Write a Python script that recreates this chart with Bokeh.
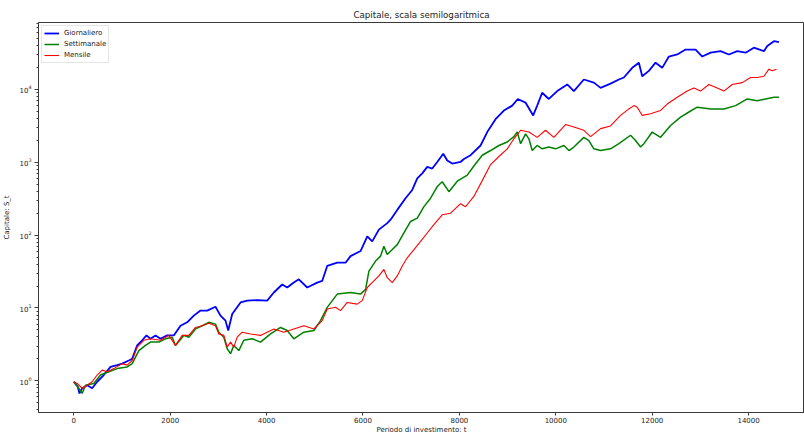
from bokeh.plotting import figure
from bokeh.models import Range1d, FixedTicker, Legend, LegendItem, LogTickFormatter
from bokeh.embed import file_html
from bokeh.resources import INLINE

# Capital paths S_t for three rebalancing frequencies (read at irregular t)
t_giornaliero = [0, 83, 118, 174, 278, 381, 485, 623, 762, 900, 1004, 1142, 1211, 1315, 1419,
                 1509, 1591, 1695, 1799, 1938, 2075, 2214, 2353, 2490, 2629, 2768, 2940, 3044,
                 3148, 3204, 3287, 3460, 3598, 3806, 4013, 4150, 4324, 4428, 4565, 4669, 4843,
                 5050, 5154, 5258, 5466, 5638, 5742, 5950, 6089, 6192, 6330, 6503, 6572, 6711,
                 6883, 7022, 7126, 7230, 7333, 7437, 7541, 7665, 7748, 7852, 8024, 8094, 8232,
                 8439, 8578, 8750, 8923, 9096, 9212, 9371, 9531, 9614, 9718, 9856, 10030, 10238,
                 10375, 10582, 10790, 10929, 11136, 11309, 11412, 11586, 11724, 11793, 11931,
                 12070, 12208, 12346, 12520, 12693, 12900, 13039, 13212, 13419, 13592, 13765,
                 13938, 14110, 14318, 14388, 14526, 14630]
s_giornaliero = [0.97, 0.83, 0.67, 0.79, 0.87, 0.79, 0.97, 1.2, 1.55, 1.64, 1.72, 1.9, 2.0, 3.06,
                 3.6, 4.2, 3.77, 4.2, 3.77, 4.2, 4.2, 5.7, 6.35, 7.85, 9.2, 9.2, 10.4, 7.85, 6.7,
                 4.9, 8.25, 11.9, 12.6, 12.8, 12.6, 16.3, 21, 19.1, 22.3, 24.7, 19.1, 22.3, 23.5,
                 37.7, 41.8, 41.8, 51.5, 60.4, 96, 82, 119, 146, 163, 222, 321, 417, 600, 705,
                 865, 820, 1010, 1310, 1060, 960, 1010, 1110, 1250, 1700, 2600, 3900, 5130, 6000,
                 7400, 6600, 4400, 6000, 9000, 7400, 9500, 11700, 9500, 13700, 12400, 10500,
                 12000, 13700, 14600, 19800, 23300, 15200, 18000, 23300, 19800, 28300, 30200,
                 35300, 35300, 28300, 32000, 33500, 30200, 33500, 32000, 37400, 33500, 39500,
                 45900, 44500]

t_settimanale = [0, 104, 174, 243, 415, 554, 727, 900, 1108, 1212, 1350, 1488, 1592, 1765, 1903,
                 2042, 2110, 2283, 2386, 2525, 2664, 2802, 2940, 3009, 3113, 3183, 3252, 3320,
                 3424, 3528, 3702, 3874, 4082, 4290, 4428, 4565, 4773, 4981, 5119, 5258, 5466,
                 5742, 5950, 6054, 6123, 6261, 6365, 6434, 6503, 6607, 6711, 6849, 6987, 7126,
                 7264, 7402, 7541, 7644, 7783, 7956, 8164, 8300, 8474, 8647, 8820, 8993, 9131,
                 9200, 9270, 9373, 9442, 9511, 9614, 9718, 9856, 9995, 10168, 10272, 10375,
                 10582, 10686, 10790, 10929, 11136, 11309, 11551, 11655, 11759, 11828, 12001,
                 12174, 12381, 12589, 12762, 12935, 13212, 13488, 13731, 13973, 14180, 14353,
                 14526, 14630]
s_settimanale = [0.97, 0.79, 0.67, 0.87, 0.92, 1.2, 1.33, 1.47, 1.55, 1.72, 2.6, 3.06, 3.4, 3.4,
                 3.77, 3.97, 3.06, 4.2, 3.97, 5.15, 5.7, 6.35, 6.0, 4.65, 3.97, 2.75, 2.36, 3.06,
                 2.6, 3.6, 3.77, 3.4, 4.4, 5.4, 4.9, 3.77, 4.65, 4.9, 6.7, 10.2, 15.5, 16.3, 15.5,
                 18, 32, 44, 51.5, 70.5, 54.3, 63.3, 74, 107, 154, 171, 246, 321, 464, 540, 395,
                 550, 665, 890, 1250, 1450, 1700, 1900, 2250, 2600, 1800, 2450, 2100, 1450, 1700,
                 1530, 1620, 1530, 1700, 1450, 1620, 2200, 1990, 1530, 1450, 1530, 1800, 2350,
                 1990, 1620, 1800, 2600, 2200, 3200, 4170, 4900, 5700, 5400, 5400, 6000, 7400,
                 7000, 7400, 7800, 7800]

t_mensile = [0, 70, 174, 278, 381, 485, 589, 693, 831, 1004, 1108, 1212, 1315, 1453, 1591, 1799,
             1972, 2110, 2249, 2386, 2525, 2664, 2802, 2940, 3009, 3113, 3183, 3252, 3320, 3390,
             3494, 3667, 3874, 4150, 4358, 4565, 4773, 4981, 5154, 5258, 5430, 5534, 5673, 5880,
             5984, 6089, 6226, 6330, 6434, 6503, 6607, 6711, 6815, 6918, 7057, 7195, 7333, 7471,
             7644, 7817, 8024, 8128, 8300, 8474, 8647, 8820, 8993, 9131, 9270, 9442, 9614, 9787,
             9960, 10203, 10375, 10582, 10721, 10929, 11136, 11343, 11516, 11620, 11690, 11793,
             11966, 12174, 12312, 12520, 12727, 12866, 13004, 13176, 13349, 13488, 13661, 13869,
             14042, 14180, 14318, 14422, 14491, 14580]
s_mensile = [0.97, 0.92, 0.79, 0.87, 0.97, 1.2, 1.4, 1.33, 1.47, 1.72, 1.64, 1.9, 2.9, 3.6, 3.77,
             3.6, 4.2, 3.06, 4.2, 4.2, 5.4, 5.7, 6.15, 5.7, 4.4, 4.2, 2.9, 3.4, 2.9, 3.97, 4.65,
             4.4, 4.2, 5.15, 4.65, 5.15, 5.7, 5.15, 6.7, 9.7, 10.2, 9.2, 11.9, 11.3, 12.6, 19.1,
             23.5, 27.5, 33.8, 26, 22.3, 27.5, 37.7, 48.8, 63.3, 82, 107, 139, 190, 200, 270,
             245, 340, 560, 930, 1200, 1530, 2100, 2750, 2600, 2200, 2750, 2200, 3300, 3050,
             2750, 2250, 2900, 3150, 4400, 5400, 6000, 5700, 4400, 4650, 5150, 6300, 7800, 9500,
             10500, 9500, 11700, 10500, 9500, 11700, 12400, 14600, 14600, 15200, 19000, 18000,
             19000]

x_ticks = [0, 2000, 4000, 6000, 8000, 10000, 12000, 14000]
y_ticks = [1, 10, 100, 1000, 10000]

FONT = "DejaVu Sans"
FRAME = "#3a3a3a"
TEXT = "#222222"

p = figure(width=804, height=436, output_backend="svg", toolbar_location=None,
           y_axis_type="log",
           x_range=Range1d(-732, 15160), y_range=Range1d(0.367, 83000),
           min_border_left=0, min_border_right=0, min_border_top=22, min_border_bottom=0,
           background_fill_color="white", border_fill_color="white")

p.title.text = "Capitale, scala semilogaritmica"
p.title.align = "center"
p.title.text_font = FONT
p.title.text_font_size = "8.7px"
p.title.text_font_style = "normal"
p.title.text_color = TEXT
p.title.standoff = 5

p.grid.visible = False
p.outline_line_color = FRAME
p.outline_line_width = 1

# x axis
p.xaxis.ticker = FixedTicker(ticks=x_ticks)
p.xaxis.minor_tick_line_color = None
p.xaxis.major_tick_out = 3
p.xaxis.major_tick_in = 0
p.xaxis.major_label_standoff = 1
p.xaxis.axis_label = "Periodo di investimento: t"
p.xaxis.axis_label_standoff = 0

# y axis, powers of ten with minor ticks at 2..9
minor = [m * 10.0 ** k for k in range(-1, 5) for m in range(2, 10)]
p.yaxis.ticker = FixedTicker(ticks=y_ticks, minor_ticks=minor)
p.yaxis.formatter = LogTickFormatter()
p.yaxis.major_tick_out = 4
p.yaxis.major_tick_in = 0
p.yaxis.minor_tick_out = 2
p.yaxis.minor_tick_in = 0
p.yaxis.major_label_standoff = 3
p.yaxis.axis_label = "Capitale: S_t"
p.yaxis.axis_label_standoff = 5
p.yaxis.minor_tick_line_color = FRAME

for ax in (p.xaxis, p.yaxis):
    ax.axis_line_color = FRAME
    ax.major_tick_line_color = FRAME
    ax.major_label_text_font = FONT
    ax.major_label_text_font_size = "7px"
    ax.major_label_text_color = TEXT
    ax.axis_label_text_font = FONT
    ax.axis_label_text_font_size = "7px"
    ax.axis_label_text_font_style = "normal"
    ax.axis_label_text_color = TEXT

r_g = p.line(t_giornaliero, s_giornaliero, line_color="#0000ff", line_width=1.8)
r_s = p.line(t_settimanale, s_settimanale, line_color="#008000", line_width=1.5)
r_m = p.line(t_mensile, s_mensile, line_color="#ff0000", line_width=1.1)

legend = Legend(items=[LegendItem(label="Giornaliero", renderers=[r_g]),
                       LegendItem(label="Settimanale", renderers=[r_s]),
                       LegendItem(label="Mensile", renderers=[r_m])],
                location="top_left", margin=3, padding=2, spacing=1,
                glyph_width=15, glyph_height=10, label_height=10, label_standoff=5,
                label_text_font=FONT, label_text_font_size="7px", label_text_color=TEXT,
                border_line_color="#cccccc", border_line_width=1,
                background_fill_color="white", background_fill_alpha=0.8)
p.add_layout(legend)

open("out.html", "w").write(file_html(p, INLINE))
